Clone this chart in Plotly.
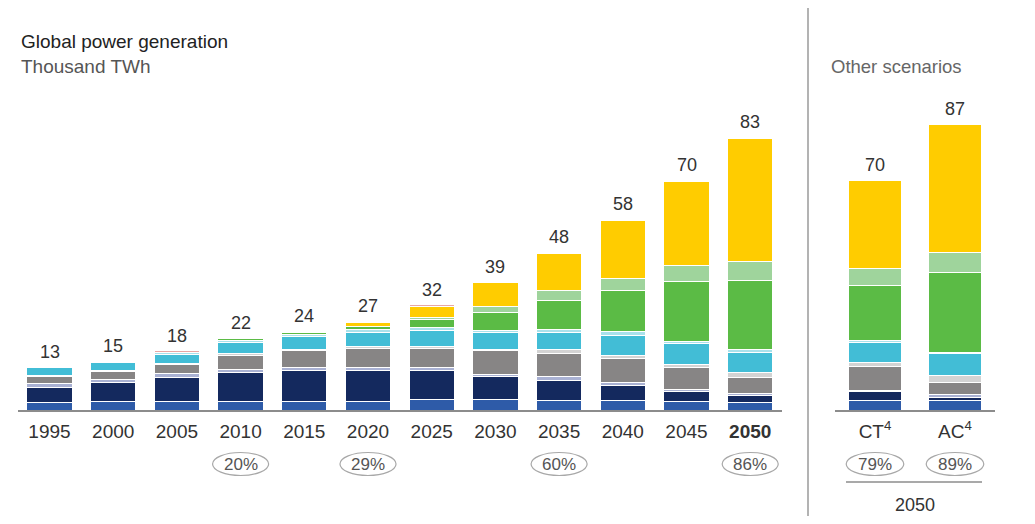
import plotly.graph_objects as go

# ---------------- data ----------------
years = [1995, 2000, 2005, 2010, 2015, 2020, 2025, 2030, 2035, 2040, 2045, 2050]
year_labels = ["1995", "2000", "2005", "2010", "2015", "2020", "2025", "2030", "2035", "2040", "2045", "<b>2050</b>"]
totals = [13, 15, 18, 22, 24, 27, 32, 39, 48, 58, 70, 83]

nuclear  = [2.2, 2.5, 2.7, 2.7, 2.6, 2.7, 3.1, 3.3, 3.0, 3.0, 2.5, 2.3]
coal     = [4.8, 5.8, 7.2, 8.8, 9.5, 9.3, 9.0, 7.0, 6.0, 4.6, 3.0, 2.0]
oil      = [1.2, 1.1, 1.1, 0.9, 0.9, 0.8, 0.8, 0.6, 1.2, 0.7, 0.7, 0.7]
gas      = [1.9, 2.2, 2.8, 4.3, 5.0, 6.0, 5.8, 7.1, 7.1, 7.4, 6.6, 4.9]
other_th = [0.3, 0.3, 0.3, 0.4, 0.4, 0.4, 0.5, 0.5, 1.0, 1.0, 1.2, 1.5]
hydro    = [2.4, 2.6, 2.9, 3.5, 3.9, 4.3, 5.0, 5.1, 5.3, 6.1, 6.1, 6.1]
other_re = [0.2, 0.3, 0.4, 0.7, 0.8, 0.9, 0.8, 0.7, 1.0, 1.0, 0.8, 1.0]
wind_on  = [0.0, 0.0, 0.1, 0.4, 0.6, 1.0, 2.6, 5.4, 8.6, 12.7, 18.3, 20.8]
wind_off = [0.0, 0.0, 0.0, 0.0, 0.0, 0.1, 0.5, 1.7, 3.2, 3.6, 4.9, 5.8]
solar    = [0.0, 0.0, 0.0, 0.0, 0.2, 1.2, 3.3, 7.3, 11.2, 17.5, 25.5, 37.5]
other    = [0.0, 0.2, 0.5, 0.3, 0.1, 0.3, 0.6, 0.3, 0.4, 0.4, 0.4, 0.4]

scenarios = ["CT", "AC"]
scenario_labels = ["CT<sup>4</sup>", "AC<sup>4</sup>"]
scenario_totals = [70, 87]
sc_nuclear  = [3.0, 3.0]
sc_coal     = [2.5, 0.8]
sc_oil      = [0.5, 1.0]
sc_gas      = [7.1, 3.5]
sc_other_th = [1.5, 2.3]
sc_hydro    = [6.1, 6.6]
sc_other_re = [0.5, 0.3]
sc_wind_on  = [16.8, 24.4]
sc_wind_off = [5.1, 6.1]
sc_solar    = [26.9, 39.0]
sc_other    = [0.0, 0.0]

share_years = [2010, 2020, 2035, 2050]
share_values = ["20%", "29%", "60%", "86%"]
scenario_shares = ["79%", "89%"]

series_names = ["Nuclear", "Coal", "Oil", "Gas", "Other thermal", "Hydro", "Other renewables",
                "Wind onshore", "Wind offshore", "Solar", "Other"]
colors = ["#2E5BA8", "#14295E", "#A9B1D3", "#878585", "#D3D3D3", "#42BDD6", "#A9E1EB",
          "#5BBB45", "#9FD49C", "#FFCC00", "#E8A7A4"]
main_series = [nuclear, coal, oil, gas, other_th, hydro, other_re, wind_on, wind_off, solar, other]
sc_series = [sc_nuclear, sc_coal, sc_oil, sc_gas, sc_other_th, sc_hydro, sc_other_re,
             sc_wind_on, sc_wind_off, sc_solar, sc_other]

# ---------------- geometry (targets in window pixels; page body has an 8px margin) ----------------
OFF = 8
W, H = 1035 - 2 * OFF, 524 - 2 * OFF
FONT = "Liberation Sans, Arial, sans-serif"
base_px = 410
px_per_unit = 3.285
top_px = 80
step = 5  # years between bars
slot_px = 63.7


def sx(p):
    return (p - OFF) / W


def sy(p):
    return (H - (p - OFF)) / H


y_dom = [sy(base_px), sy(top_px)]
y_max = (base_px - top_px) / px_per_unit
first_center = 49.5
x_left_px = first_center - slot_px / 2
x_right_px = x_left_px + slot_px * len(years)

fig = go.Figure()
for name, col, vals in zip(series_names, colors, main_series):
    fig.add_trace(go.Bar(x=years, y=vals, name=name, marker=dict(color=col, line=dict(color="white", width=1)),
                         width=0.71 * step, xaxis="x", yaxis="y", showlegend=False, hoverinfo="skip"))
for name, col, vals in zip(series_names, colors, sc_series):
    fig.add_trace(go.Bar(x=scenarios, y=vals, name=name, marker=dict(color=col, line=dict(color="white", width=1)),
                         width=0.67, xaxis="x2", yaxis="y", showlegend=False, hoverinfo="skip"))

label_font = dict(family=FONT, size=18, color="#333333")
annotations = []
for yr, t in zip(years, totals):
    annotations.append(dict(x=yr, y=t, xref="x", yref="y", text=str(t), showarrow=False,
                            xanchor="center", yanchor="bottom", yshift=3, font=label_font))
for sc, t in zip(scenarios, scenario_totals):
    annotations.append(dict(x=sc, y=t, xref="x2", yref="y", text=str(t), showarrow=False,
                            xanchor="center", yanchor="bottom", yshift=3, font=label_font))

shapes = []
oval_c, oval_h = 464, 23
pct_font = dict(family=FONT, size=17, color="#555555")
for yr, s in zip(share_years, share_values):
    shapes.append(dict(type="circle", xref="x", yref="paper", x0=yr - 0.44 * step, x1=yr + 0.44 * step,
                       y0=sy(oval_c + oval_h / 2), y1=sy(oval_c - oval_h / 2),
                       line=dict(color="#A8A8A8", width=1.2)))
    annotations.append(dict(x=yr, y=sy(oval_c), xref="x", yref="paper", text=s, showarrow=False,
                            xanchor="center", yanchor="middle", font=pct_font))
for i, s in enumerate(scenario_shares):
    shapes.append(dict(type="circle", xref="x2", yref="paper", x0=i - 0.36, x1=i + 0.36,
                       y0=sy(oval_c + oval_h / 2), y1=sy(oval_c - oval_h / 2),
                       line=dict(color="#A8A8A8", width=1.2)))
    annotations.append(dict(x=i, y=sy(oval_c), xref="x2", yref="paper", text=s, showarrow=False,
                            xanchor="center", yanchor="middle", font=pct_font))

# separator line and scenario bracket
shapes.append(dict(type="line", xref="paper", yref="paper", x0=sx(808), x1=sx(808), y0=0, y1=1.05,
                   line=dict(color="#9A9A9A", width=1.5)))
shapes.append(dict(type="line", xref="paper", yref="paper", x0=sx(846), x1=sx(982), y0=sy(482), y1=sy(482),
                   line=dict(color="#555555", width=1.2)))
annotations.append(dict(x=sx(915), y=sy(505), xref="paper", yref="paper", text="2050", showarrow=False,
                        xanchor="center", yanchor="middle", font=dict(family=FONT, size=18, color="#333333")))

# titles
annotations.append(dict(x=sx(19), y=sy(42), xref="paper", yref="paper", xanchor="left", yanchor="middle",
                        text="Global power generation", showarrow=False,
                        font=dict(family=FONT, size=19, color="#222222")))
annotations.append(dict(x=sx(19), y=sy(66), xref="paper", yref="paper", xanchor="left", yanchor="middle",
                        text="Thousand TWh", showarrow=False, font=dict(family=FONT, size=19, color="#555555")))
annotations.append(dict(x=sx(829), y=sy(66), xref="paper", yref="paper", xanchor="left", yanchor="middle",
                        text="Other scenarios", showarrow=False, font=dict(family=FONT, size=18.5, color="#666666")))

tick_font = dict(family=FONT, size=19, color="#333333")
fig.update_layout(
    width=W, height=H, margin=dict(l=0, r=0, t=0, b=0),
    paper_bgcolor="white", plot_bgcolor="white",
    barmode="stack", showlegend=False,
    xaxis=dict(domain=[sx(x_left_px), sx(x_right_px)], anchor="y", type="linear",
               range=[years[0] - step / 2, years[-1] + step / 2],
               tickmode="array", tickvals=years, ticktext=year_labels, showline=True, linecolor="#8C8C8C",
               linewidth=1.5, ticks="", showgrid=False, zeroline=False, ticklabelstandoff=3,
               tickfont=tick_font),
    xaxis2=dict(domain=[sx(835), sx(995)], anchor="y", type="category", categoryorder="array",
                categoryarray=scenarios, range=[-0.5, 1.5],
                tickmode="array", tickvals=scenarios, ticktext=scenario_labels, showline=True, linecolor="#8C8C8C",
                linewidth=1.5, ticks="", showgrid=False, zeroline=False, ticklabelstandoff=3,
                tickfont=tick_font),
    yaxis=dict(domain=y_dom, range=[0, y_max], visible=False),
    annotations=annotations, shapes=shapes,
)

fig.write_html("out.html")
